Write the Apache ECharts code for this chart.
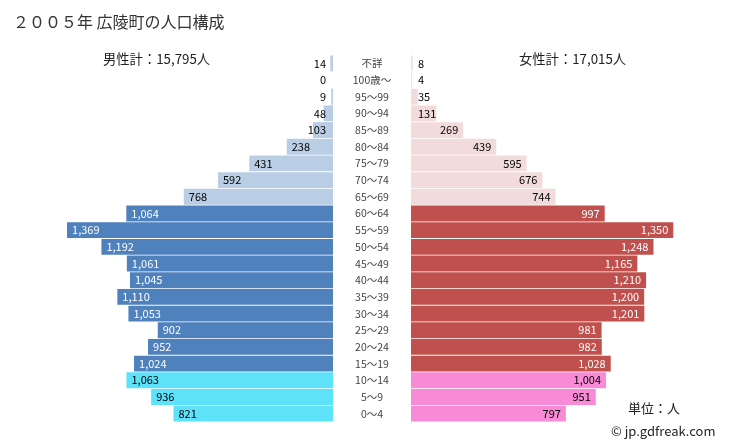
<!DOCTYPE html>
<html><head><meta charset="utf-8">
<script src="https://cdn.jsdelivr.net/npm/echarts@6/dist/echarts.min.js"></script>
<style>html,body{margin:0;padding:0;background:#fff}#c{width:729px;height:445px}</style>
</head><body><div id="c"></div>
<script>
const categories = ['不詳','100歳～','95～99','90～94','85～89','80～84','75～79','70～74','65～69','60～64','55～59','50～54','45～49','40～44','35～39','30～34','25～29','20～24','15～19','10～14','5～9','0～4'];
const groups = ['old','old','old','old','old','old','old','old','old','mid','mid','mid','mid','mid','mid','mid','mid','mid','mid','young','young','young'];
const male = [14,0,9,48,103,238,431,592,768,1064,1369,1192,1061,1045,1110,1053,902,952,1024,1063,936,821];
const female = [8,4,35,131,269,439,595,676,744,997,1350,1248,1165,1210,1200,1201,981,982,1028,1004,951,797];
const titleText = '２００５年 広陵町の人口構成';
const maleTotal = '男性計：15,795人';
const femaleTotal = '女性計：17,015人';

const maleColors = {old:'#b9cde5', mid:'#4f81bd', young:'#5de2f9'};
const femaleColors = {old:'#f2dcdb', mid:'#c0504d', young:'#f98ad8'};
const labelColors = {old:'#000', mid:'#fff', young:'#000'};
const fmt = v => v.toLocaleString('en-US');
const SMALL = 200;

const maleData = male.map((v,i)=>({
  value:v,
  itemStyle:{color:maleColors[groups[i]]},
  label:{show:true, formatter:fmt(v), color:labelColors[groups[i]],
    position: v < SMALL ? 'insideRight' : 'insideLeft', distance: v < SMALL ? 7 : 5}
}));
const femaleData = female.map((v,i)=>({
  value:v,
  itemStyle:{color:femaleColors[groups[i]]},
  label:{show:true, formatter:fmt(v), color:labelColors[groups[i]],
    position: v < SMALL ? 'insideLeft' : 'insideRight', distance: v < SMALL ? 7 : 5}
}));

const chart = echarts.init(document.getElementById('c'), null, {renderer:'canvas'});
const ff = '"Noto Sans CJK JP", "Noto Sans", sans-serif';
chart.setOption({
  animation:false,
  textStyle:{fontFamily:ff},
  title:[
    {text:titleText, left:8, top:9, textStyle:{fontSize:16, fontWeight:'normal', color:'#333', fontFamily:ff}},
  ],
  graphic:[
    {type:'text', left:103, top:52, style:{text:maleTotal, fill:'#222', font:'13.3px '+ff}},
    {type:'text', left:519, top:52, style:{text:femaleTotal, fill:'#222', font:'13.3px '+ff}},
    {type:'text', left:628, top:402, style:{text:'単位：人', font:'13px '+ff, fill:'#222'}},
    {type:'text', left:611, top:425, style:{text:'© jp.gdfreak.com', font:'13px '+ff, fill:'#222'}}
  ],
  grid:[
    {left:61, right:396, top:55, bottom:23},
    {left:411, right:46, top:55, bottom:23}
  ],
  xAxis:[
    {gridIndex:0, type:'value', min:0, max:1400, inverse:true, show:false},
    {gridIndex:1, type:'value', min:0, max:1400, show:false}
  ],
  yAxis:[
    {gridIndex:0, type:'category', data:categories, inverse:true, position:'right',
     axisLine:{show:false}, axisTick:{show:false}, splitLine:{show:false},
     axisLabel:{show:true, align:'center', margin:39, color:'#444', fontSize:10.5, fontFamily:ff}},
    {gridIndex:1, type:'category', data:categories, inverse:true, show:false}
  ],
  series:[
    {type:'bar', xAxisIndex:0, yAxisIndex:0, data:maleData, barCategoryGap:'5%',
     label:{fontSize:11, fontFamily:ff}},
    {type:'bar', xAxisIndex:1, yAxisIndex:1, data:femaleData, barCategoryGap:'5%',
     label:{fontSize:11, fontFamily:ff}}
  ]
});
</script></body></html>
